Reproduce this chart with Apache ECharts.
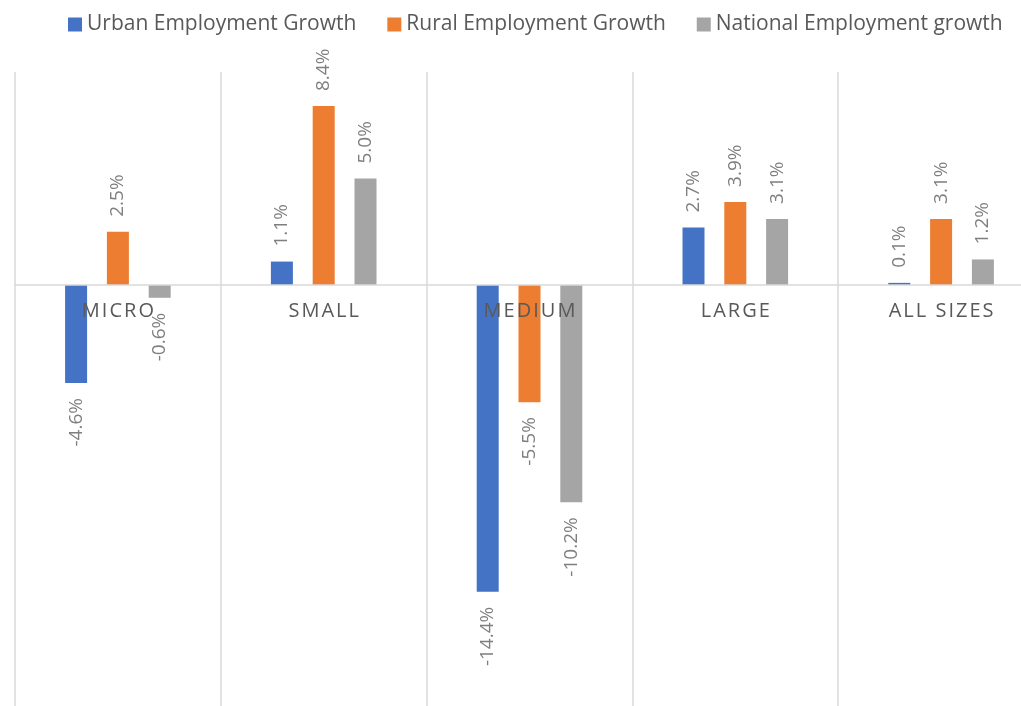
<!DOCTYPE html>
<html>
<head>
<meta charset="utf-8">
<script src="https://cdn.jsdelivr.net/npm/echarts@6/dist/echarts.min.js"></script>
<style>
  html, body { margin: 0; padding: 0; background: #ffffff; }
  #chart { width: 1021px; height: 706px; }
</style>
</head>
<body>
<div id="chart"></div>
<script>
// Employment growth by enterprise size (%)
const categories = ['MICRO', 'SMALL', 'MEDIUM', 'LARGE', 'ALL SIZES'];
const seriesNames = ['Urban Employment Growth', 'Rural Employment Growth', 'National Employment growth'];
const urbanGrowth = [-4.6, 1.1, -14.4, 2.7, 0.1];
const ruralGrowth = [2.5, 8.4, -5.5, 3.9, 3.1];
const nationalGrowth = [-0.6, 5.0, -10.2, 3.1, 1.2];
const colors = ['#4472C4', '#ED7D31', '#A5A5A5'];

const FONT = '"Open Sans", "Noto Sans", sans-serif';
const HAIR = '\u200A';

// Value range and plot box
const Y_MIN = -20;
const Y_MAX = 10;
const GRID_HEIGHT = 639;
// Shift the category axis up from the plot bottom to the zero line
const ZERO_OFFSET = -GRID_HEIGHT * (0 - Y_MIN) / (Y_MAX - Y_MIN);

// Spread letters apart for the category labels
function spaced(s) {
  return s.split('').join(HAIR);
}

// Value labels sit outside the bar end: above positive bars, below negative ones
function toData(values) {
  return values.map(v => ({
    value: v,
    label: v >= 0
      ? { position: 'top', align: 'left', verticalAlign: 'middle' }
      : { position: 'bottom', align: 'right', verticalAlign: 'middle' }
  }));
}

function makeSeries(name, values, color) {
  return {
    name: name,
    type: 'bar',
    data: toData(values),
    barWidth: 22,
    barGap: '90%',
    itemStyle: { color: color },
    label: {
      show: true,
      rotate: 90,
      distance: 15,
      color: '#7F7F7F',
      fontFamily: FONT,
      fontSize: 19,
      formatter: p => p.value.toFixed(1) + '%'
    }
  };
}

const chart = echarts.init(document.getElementById('chart'));
chart.setOption({
  animation: false,
  backgroundColor: '#ffffff',
  color: colors,
  legend: {
    left: 63,
    top: 9,
    itemWidth: 14,
    itemHeight: 14,
    itemGap: 31,
    icon: 'rect',
    textStyle: { color: '#595959', fontFamily: FONT, fontSize: 21 },
    data: seriesNames
  },
  grid: {
    left: 15, top: 72, width: 1029, height: GRID_HEIGHT,
    containLabel: false,
    outerBoundsMode: 'none'
  },
  xAxis: {
    type: 'category',
    data: categories,
    position: 'bottom',
    offset: ZERO_OFFSET,
    z: 10,
    axisLine: { show: true, onZero: false, lineStyle: { color: '#D9D9D9', width: 1.5 } },
    axisTick: { show: false },
    splitLine: { show: true, lineStyle: { color: '#D9D9D9', width: 1.5 } },
    axisLabel: {
      color: '#595959',
      fontFamily: FONT,
      fontSize: 20,
      margin: 16,
      formatter: v => spaced(v)
    }
  },
  yAxis: {
    type: 'value',
    min: Y_MIN,
    max: Y_MAX,
    interval: 5,
    show: false,
    splitLine: { show: false }
  },
  series: [
    makeSeries(seriesNames[0], urbanGrowth, colors[0]),
    makeSeries(seriesNames[1], ruralGrowth, colors[1]),
    makeSeries(seriesNames[2], nationalGrowth, colors[2])
  ]
});
</script>
</body>
</html>
